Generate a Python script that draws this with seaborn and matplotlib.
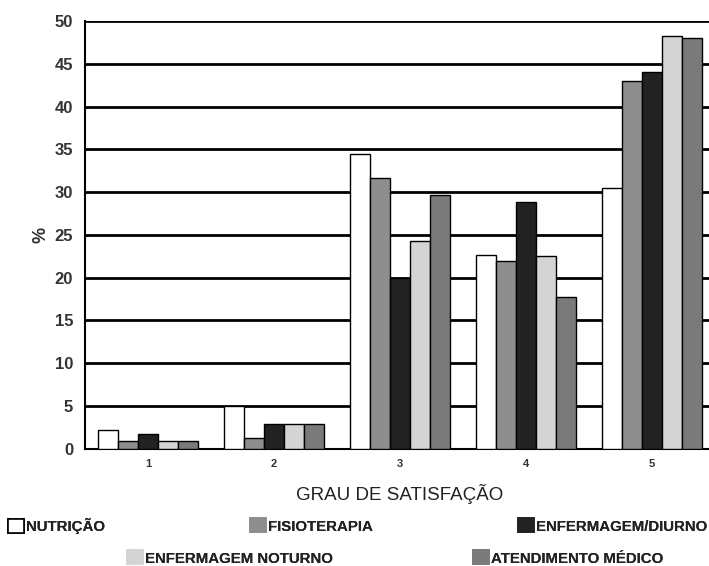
import pandas as pd
import matplotlib.pyplot as plt
import seaborn as sns
from matplotlib.patches import Patch

# dados
graus = ['1', '2', '3', '4', '5']
servicos = ['NUTRIÇÃO', 'FISIOTERAPIA', 'ENFERMAGEM/DIURNO',
            'ENFERMAGEM NOTURNO', 'ATENDIMENTO MÉDICO']
nutricao = [2.2, 5.0, 34.5, 22.7, 30.5]
fisioterapia = [0.9, 1.3, 31.7, 22.0, 43.0]
enf_diurno = [1.7, 2.9, 20.0, 28.9, 44.0]
enf_noturno = [0.9, 2.9, 24.3, 22.5, 48.2]
atendimento = [0.9, 2.9, 29.7, 17.7, 48.0]
cores = ['#ffffff', '#8e8e8e', '#222222', '#d4d4d4', '#7a7a7a']

valores = [nutricao, fisioterapia, enf_diurno, enf_noturno, atendimento]
rows = []
for s, vals in zip(servicos, valores):
    for g, v in zip(graus, vals):
        rows.append({'grau': g, 'servico': s, 'pct': v})
df = pd.DataFrame(rows)

sns.set_style('white')
plt.rcParams['font.family'] = ['Liberation Sans', 'DejaVu Sans']

fig = plt.figure(figsize=(7.09, 5.66), dpi=100)
# eixo estende um pouco além da borda direita (recortado no original)
ax = fig.add_axes([85 / 709, 0.207, 630 / 709, 0.756])

sns.barplot(data=df, x='grau', y='pct', hue='servico', hue_order=servicos,
            palette=cores, edgecolor='black', linewidth=1.0, width=0.79,
            ax=ax, legend=False, zorder=3)

ax.set_ylim(0, 50)
ax.set_yticks(range(0, 51, 5))
ax.set_xlim(-0.5, 4.5)
ax.grid(axis='y', color='black', linewidth=2, zorder=0)
ax.set_axisbelow(True)
for sp in ax.spines.values():
    sp.set_color('black')
    sp.set_linewidth(1.5)
ax.spines['right'].set_visible(False)
ax.spines['top'].set_visible(False)
ax.tick_params(axis='y', direction='out', length=5, width=1.2, labelsize=12,
               colors='black')
ax.tick_params(axis='x', direction='out', length=0, labelsize=8, pad=7)
for lab in ax.get_yticklabels():
    lab.set_fontweight('bold')
    lab.set_color('#333333')
for lab in ax.get_xticklabels():
    lab.set_fontweight('bold')
    lab.set_color('#333333')
ax.set_ylabel('%', fontsize=13, fontweight='bold', color='#333333')
ax.set_xlabel('GRAU DE SATISFAÇÃO', fontsize=13.5, color='#222222', labelpad=11)

# legenda em duas linhas, cada item posicionado como no original
pos = [(8, 526), (250, 526), (518, 526), (127, 558), (473, 558)]
fnt = {'weight': 'bold', 'size': 10.8}
for i, (s, c) in enumerate(zip(servicos, cores)):
    h = Patch(facecolor=c, edgecolor='black' if i == 0 else c, linewidth=1.2)
    x, y = pos[i]
    leg = fig.legend([h], [s], loc='center left',
                     bbox_to_anchor=(x / 709, 1 - y / 566), frameon=False,
                     prop=fnt, borderpad=0, borderaxespad=0,
                     handlelength=1.05, handleheight=1.05, handletextpad=0.15)
    leg.get_texts()[0].set_color('#222222')
    fig.add_artist(leg)

fig.savefig('out.png', dpi=100)
